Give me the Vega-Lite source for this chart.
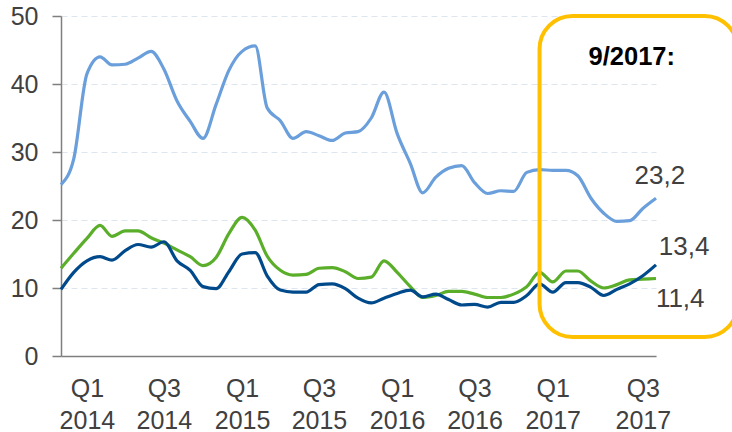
{
  "$schema": "https://vega.github.io/schema/vega-lite/v6.json",
  "width": 595,
  "height": 340,
  "autosize": {"type": "none"},
  "padding": {"left": 61, "top": 16, "right": 76, "bottom": 76},
  "background": "white",
  "config": {"view": {"stroke": null}, "font": "Liberation Sans"},
  "layer": [
    {
      "data": {
        "values": [
          {"d":"2013-11","s":"s1","v":25.2},{"d":"2013-12","s":"s1","v":29.0},{"d":"2014-01","s":"s1","v":41.5},{"d":"2014-02","s":"s1","v":44.0},{"d":"2014-03","s":"s1","v":42.8},{"d":"2014-04","s":"s1","v":42.9},{"d":"2014-05","s":"s1","v":43.8},{"d":"2014-06","s":"s1","v":44.8},{"d":"2014-07","s":"s1","v":42.2},{"d":"2014-08","s":"s1","v":37.5},{"d":"2014-09","s":"s1","v":34.5},{"d":"2014-10","s":"s1","v":32.0},{"d":"2014-11","s":"s1","v":37.0},{"d":"2014-12","s":"s1","v":42.0},{"d":"2015-01","s":"s1","v":44.8},{"d":"2015-02","s":"s1","v":45.6},{"d":"2015-03","s":"s1","v":36.5},{"d":"2015-04","s":"s1","v":34.6},{"d":"2015-05","s":"s1","v":32.0},{"d":"2015-06","s":"s1","v":33.0},{"d":"2015-07","s":"s1","v":32.4},{"d":"2015-08","s":"s1","v":31.7},{"d":"2015-09","s":"s1","v":32.8},{"d":"2015-10","s":"s1","v":33.0},{"d":"2015-11","s":"s1","v":35.0},{"d":"2015-12","s":"s1","v":38.8},{"d":"2016-01","s":"s1","v":32.7},{"d":"2016-02","s":"s1","v":28.3},{"d":"2016-03","s":"s1","v":24.0},{"d":"2016-04","s":"s1","v":26.3},{"d":"2016-05","s":"s1","v":27.6},{"d":"2016-06","s":"s1","v":28.0},{"d":"2016-07","s":"s1","v":25.5},{"d":"2016-08","s":"s1","v":23.9},{"d":"2016-09","s":"s1","v":24.3},{"d":"2016-10","s":"s1","v":24.2},{"d":"2016-11","s":"s1","v":27.0},{"d":"2016-12","s":"s1","v":27.4},{"d":"2017-01","s":"s1","v":27.3},{"d":"2017-02","s":"s1","v":27.3},{"d":"2017-03","s":"s1","v":26.5},{"d":"2017-04","s":"s1","v":23.2},{"d":"2017-05","s":"s1","v":21.0},{"d":"2017-06","s":"s1","v":19.8},{"d":"2017-07","s":"s1","v":19.9},{"d":"2017-08","s":"s1","v":21.7},{"d":"2017-09","s":"s1","v":23.2},
          {"d":"2013-11","s":"s2","v":12.9},{"d":"2013-12","s":"s2","v":15.1},{"d":"2014-01","s":"s2","v":17.3},{"d":"2014-02","s":"s2","v":19.2},{"d":"2014-03","s":"s2","v":17.6},{"d":"2014-04","s":"s2","v":18.4},{"d":"2014-05","s":"s2","v":18.4},{"d":"2014-06","s":"s2","v":17.4},{"d":"2014-07","s":"s2","v":16.6},{"d":"2014-08","s":"s2","v":15.6},{"d":"2014-09","s":"s2","v":14.6},{"d":"2014-10","s":"s2","v":13.3},{"d":"2014-11","s":"s2","v":14.5},{"d":"2014-12","s":"s2","v":18.0},{"d":"2015-01","s":"s2","v":20.4},{"d":"2015-02","s":"s2","v":18.5},{"d":"2015-03","s":"s2","v":14.7},{"d":"2015-04","s":"s2","v":12.6},{"d":"2015-05","s":"s2","v":11.9},{"d":"2015-06","s":"s2","v":12.0},{"d":"2015-07","s":"s2","v":12.9},{"d":"2015-08","s":"s2","v":13.0},{"d":"2015-09","s":"s2","v":12.4},{"d":"2015-10","s":"s2","v":11.4},{"d":"2015-11","s":"s2","v":11.6},{"d":"2015-12","s":"s2","v":14.0},{"d":"2016-01","s":"s2","v":12.3},{"d":"2016-02","s":"s2","v":10.2},{"d":"2016-03","s":"s2","v":8.6},{"d":"2016-04","s":"s2","v":8.9},{"d":"2016-05","s":"s2","v":9.5},{"d":"2016-06","s":"s2","v":9.5},{"d":"2016-07","s":"s2","v":9.1},{"d":"2016-08","s":"s2","v":8.6},{"d":"2016-09","s":"s2","v":8.6},{"d":"2016-10","s":"s2","v":9.1},{"d":"2016-11","s":"s2","v":10.2},{"d":"2016-12","s":"s2","v":12.3},{"d":"2017-01","s":"s2","v":10.9},{"d":"2017-02","s":"s2","v":12.5},{"d":"2017-03","s":"s2","v":12.5},{"d":"2017-04","s":"s2","v":11.0},{"d":"2017-05","s":"s2","v":10.0},{"d":"2017-06","s":"s2","v":10.5},{"d":"2017-07","s":"s2","v":11.2},{"d":"2017-08","s":"s2","v":11.3},{"d":"2017-09","s":"s2","v":11.4},
          {"d":"2013-11","s":"s3","v":9.8},{"d":"2013-12","s":"s3","v":12.3},{"d":"2014-01","s":"s3","v":14.0},{"d":"2014-02","s":"s3","v":14.6},{"d":"2014-03","s":"s3","v":14.1},{"d":"2014-04","s":"s3","v":15.5},{"d":"2014-05","s":"s3","v":16.4},{"d":"2014-06","s":"s3","v":16.0},{"d":"2014-07","s":"s3","v":16.8},{"d":"2014-08","s":"s3","v":14.0},{"d":"2014-09","s":"s3","v":12.6},{"d":"2014-10","s":"s3","v":10.2},{"d":"2014-11","s":"s3","v":9.9},{"d":"2014-12","s":"s3","v":12.4},{"d":"2015-01","s":"s3","v":15.0},{"d":"2015-02","s":"s3","v":15.2},{"d":"2015-03","s":"s3","v":11.8},{"d":"2015-04","s":"s3","v":9.7},{"d":"2015-05","s":"s3","v":9.4},{"d":"2015-06","s":"s3","v":9.4},{"d":"2015-07","s":"s3","v":10.5},{"d":"2015-08","s":"s3","v":10.6},{"d":"2015-09","s":"s3","v":9.9},{"d":"2015-10","s":"s3","v":8.5},{"d":"2015-11","s":"s3","v":7.8},{"d":"2015-12","s":"s3","v":8.5},{"d":"2016-01","s":"s3","v":9.2},{"d":"2016-02","s":"s3","v":9.7},{"d":"2016-03","s":"s3","v":8.7},{"d":"2016-04","s":"s3","v":9.1},{"d":"2016-05","s":"s3","v":8.3},{"d":"2016-06","s":"s3","v":7.5},{"d":"2016-07","s":"s3","v":7.6},{"d":"2016-08","s":"s3","v":7.2},{"d":"2016-09","s":"s3","v":7.9},{"d":"2016-10","s":"s3","v":7.9},{"d":"2016-11","s":"s3","v":8.9},{"d":"2016-12","s":"s3","v":10.6},{"d":"2017-01","s":"s3","v":9.4},{"d":"2017-02","s":"s3","v":10.8},{"d":"2017-03","s":"s3","v":10.8},{"d":"2017-04","s":"s3","v":10.1},{"d":"2017-05","s":"s3","v":8.9},{"d":"2017-06","s":"s3","v":9.8},{"d":"2017-07","s":"s3","v":10.6},{"d":"2017-08","s":"s3","v":11.8},{"d":"2017-09","s":"s3","v":13.4}
        ],
        "format": {"parse": {"d": "date:'%Y-%m'"}}
      },
      "mark": {"type": "line", "interpolate": "monotone", "strokeWidth": 3.2},
      "encoding": {
        "x": {
          "field": "d", "type": "temporal",
          "scale": {"domain": [{"year": 2013, "month": 11, "date": 1}, {"year": 2017, "month": 9, "date": 1}], "nice": false},
          "axis": {
            "title": null,
            "values": [{"year": 2014, "month": 1, "date": 1}, {"year": 2014, "month": 7, "date": 1}, {"year": 2015, "month": 1, "date": 1}, {"year": 2015, "month": 7, "date": 1}, {"year": 2016, "month": 1, "date": 1}, {"year": 2016, "month": 7, "date": 1}, {"year": 2017, "month": 1, "date": 1}, {"year": 2017, "month": 8, "date": 1}],
            "labelExpr": "[timeFormat(datum.value, 'Q%q'), timeFormat(datum.value, '%Y')]",
            "ticks": false, "grid": false,
            "domainColor": "#7f7f7f", "domainWidth": 1.5,
            "labelFontSize": 25, "labelColor": "#404040", "labelPadding": 20, "labelLineHeight": 32,
            "labelFlush": false, "labelOverlap": false
          }
        },
        "y": {
          "field": "v", "type": "quantitative",
          "scale": {"domain": [0, 50], "nice": false},
          "axis": {
            "title": null, "values": [0, 10, 20, 30, 40, 50],
            "grid": true, "gridDash": [6, 4], "gridColor": "#dde5ee", "gridWidth": 1.2,
            "tickSize": 9, "tickColor": "#7f7f7f", "tickWidth": 1.5,
            "domainColor": "#7f7f7f", "domainWidth": 1.5,
            "labelFontSize": 25, "labelColor": "#404040", "labelPadding": 14
          }
        },
        "color": {
          "field": "s", "type": "nominal",
          "scale": {"domain": ["s1", "s2", "s3"], "range": ["#6A9FDB", "#5AAE2A", "#004A8C"]},
          "legend": null
        }
      }
    },
    {
      "data": {
        "values": [{"d0": "2016-12-01", "d1": "2018-03-12", "lo": 2.8, "hi": 50}],
        "format": {"parse": {"d0": "date:'%Y-%m-%d'", "d1": "date:'%Y-%m-%d'"}}
      },
      "mark": {"type": "rect", "filled": false, "stroke": "#FFC000", "strokeWidth": 4, "cornerRadius": 33},
      "encoding": {
        "x": {"field": "d0", "type": "temporal"},
        "x2": {"field": "d1"},
        "y": {"field": "hi", "type": "quantitative"},
        "y2": {"field": "lo"}
      }
    },
    {
      "data": {
        "values": [{"t": "9/2017:", "d": "2017-07-06", "v": 43.9}],
        "format": {"parse": {"d": "date:'%Y-%m-%d'"}}
      },
      "mark": {"type": "text", "fontSize": 25.5, "fontWeight": "bold", "color": "#000000"},
      "encoding": {
        "x": {"field": "d", "type": "temporal"},
        "y": {"field": "v", "type": "quantitative"},
        "text": {"field": "t"}
      }
    },
    {
      "data": {
        "values": [
          {"t": "23,2", "d": "2017-09-10", "v": 26.5},
          {"t": "13,4", "d": "2017-11-06", "v": 16.0},
          {"t": "11,4", "d": "2017-10-28", "v": 8.4}
        ],
        "format": {"parse": {"d": "date:'%Y-%m-%d'"}}
      },
      "mark": {"type": "text", "fontSize": 26, "color": "#404040"},
      "encoding": {
        "x": {"field": "d", "type": "temporal"},
        "y": {"field": "v", "type": "quantitative"},
        "text": {"field": "t"}
      }
    }
  ]
}
